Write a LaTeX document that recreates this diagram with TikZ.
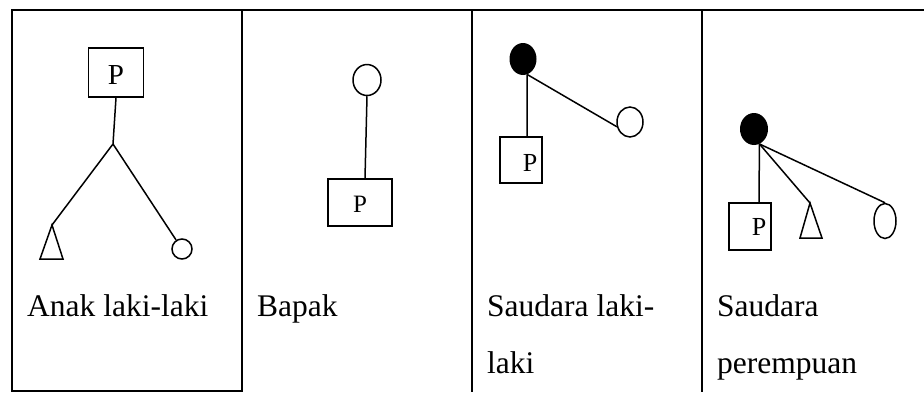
\documentclass[tikz,border=0pt]{standalone}
\usepackage{fontspec}
\setmainfont{Liberation Serif}
\usetikzlibrary{shapes.geometric}
\begin{document}
\begin{tikzpicture}[x=1pt,y=-1pt,
  frame/.style={line width=1.8pt},
  link/.style={line width=1.5pt},
  sq/.style={draw,line width=1.5pt,rectangle,inner sep=0pt},
  ring/.style={draw,line width=1.5pt,ellipse,inner sep=0pt},
  dot/.style={fill=black,ellipse,inner sep=0pt},
  plabel/.style={inner sep=0pt,font=\fontsize{26}{26}\selectfont},
  caption/.style={anchor=base west,inner sep=0pt,font=\fontsize{31.5}{31.5}\selectfont}]
\useasboundingbox (0,0) rectangle (924,392);

% table rules
\draw[frame] (924,10) -- (12,10) -- (12,391) -- (242,391);
\draw[frame] (242,10) -- (242,392);
\draw[frame] (472,10) -- (472,392);
\draw[frame] (702,10) -- (702,392);

% Anak laki-laki
\node[sq,minimum width=55,minimum height=49] (p1) at (116,72.5) {};
\node[plabel,font=\fontsize{29}{29}\selectfont] (p1t) at (116,75) {P};
\coordinate (j1) at (113,144);
\coordinate (t1) at (52,225);
\node[ring,minimum width=20,minimum height=20] (c1) at (182,249) {};
\draw[link] (p1.south) -- (j1);
\draw[link] (j1) -- (t1);
\draw[link] (j1) -- (c1);
\draw[link] (t1) -- (40,259) -- (63,259) -- cycle;
\node[caption] (l1) at (27,316) {Anak laki-laki};

% Bapak
\node[ring,minimum width=28,minimum height=31] (c2) at (367,80) {};
\node[sq,minimum width=64,minimum height=47] (p2) at (360,202.5) {};
\node[plabel,font=\fontsize{25}{25}\selectfont] (p2t) at (360,204) {P};
\draw[link] (c2.south) -- ([xshift=5pt]p2.north);
\node[caption] (l2) at (257,316) {Bapak};

% Saudara laki-laki
\node[dot,minimum width=27,minimum height=32] (f3) at (523,59) {};
\node[sq,minimum width=42,minimum height=46] (p3) at (521,160) {};
\node[plabel] (p3t) at (530,163) {P};
\node[ring,minimum width=26,minimum height=30] (c3) at (630,122) {};
\draw[link] (f3.285) -- ([xshift=6pt]p3.north);
\draw[link] (f3.285) -- (c3.200);
\node[caption] (l3) at (487,316) {Saudara laki-};
\node[caption] (l3b) at (487,373) {laki};

% Saudara perempuan
\node[dot,minimum width=28,minimum height=32] (f4) at (754,129) {};
\node[sq,minimum width=42,minimum height=47] (p4) at (750,226.5) {};
\node[plabel] (p4t) at (759,227) {P};
\coordinate (t4) at (810,203);
\node[ring,minimum width=22,minimum height=35] (e4) at (885,221) {};
\draw[link] (f4.290) -- ([xshift=9pt]p4.north);
\draw[link] (f4.290) -- (t4);
\draw[link] (f4.290) -- (e4.north);
\draw[link] (t4) -- (800,238) -- (822,238) -- cycle;
\node[caption] (l4) at (717,316) {Saudara};
\node[caption] (l4b) at (717,373) {perempuan};
\end{tikzpicture}
\end{document}
